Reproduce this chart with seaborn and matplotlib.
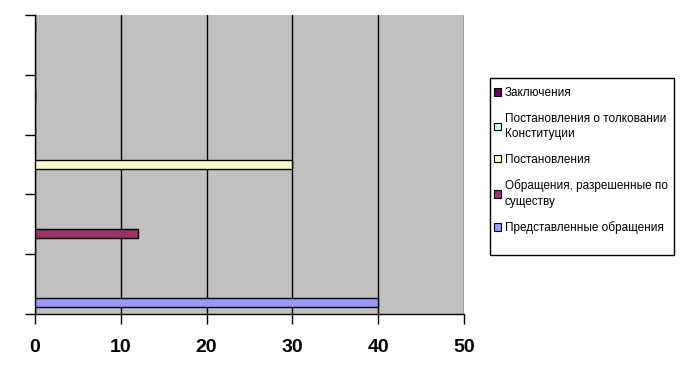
import numpy as np
import pandas as pd
import seaborn as sns
import matplotlib
matplotlib.use("Agg")
import matplotlib.pyplot as plt
from matplotlib.patches import Patch, Rectangle

# ---- data ----
categories = ["1", "2", "3", "4", "5"]  # bottom to top
series = [
    "Представленные обращения",
    "Обращения, разрешенные по существу",
    "Постановления",
    "Постановления о толковании Конституции",
    "Заключения",
]
values = [40, 12, 30, 0, 0]
colors = ["#9999FF", "#993366", "#FFFFCC", "#CCFFFF", "#660066"]
legend_labels = [
    "Представленные обращения",
    "Обращения, разрешенные по\nсуществу",
    "Постановления",
    "Постановления о толковании\nКонституции",
    "Заключения",
]
x_ticks = [0, 10, 20, 30, 40, 50]

df = pd.DataFrame({"category": categories, "series": series, "value": values})

sns.set_theme(style="white")
plt.rcParams["font.family"] = ["Liberation Sans", "DejaVu Sans"]

fig = plt.figure(figsize=(6.84, 3.82), dpi=100)
ax = fig.add_axes([35 / 684, 1 - 314 / 382, (464 - 35) / 684, (314 - 15) / 382])
ax.set_facecolor("#C0C0C0")

palette = dict(zip(series, colors))
sns.barplot(
    data=df, y="category", x="value", hue="series",
    order=categories[::-1], hue_order=series[::-1],
    palette=palette, saturation=1, orient="h", width=0.77, dodge=True,
    errorbar=None, edgecolor="black", linewidth=1, legend=False, ax=ax, zorder=3,
)

ax.set_xlim(0, 50)
ax.set_ylim(4.5, -0.5)
ax.set_xticks(x_ticks)
ax.set_xticklabels([str(t) for t in x_ticks], fontsize=14, fontweight="bold", color="black")
ax.set_yticks(np.arange(-0.5, 5, 1.0))
ax.set_yticklabels([])
ax.set_xlabel("")
ax.set_ylabel("")
ax.xaxis.grid(True, color="black", linewidth=1, zorder=1)
ax.set_axisbelow(True)
ax.yaxis.grid(False)
for s in ["top", "right"]:
    ax.spines[s].set_visible(False)
for s in ["left", "bottom"]:
    ax.spines[s].set_color("black")
    ax.spines[s].set_linewidth(1)
ax.tick_params(axis="x", which="major", direction="out", length=7, width=1,
               color="black", pad=11, bottom=True)
ax.tick_params(axis="y", which="major", direction="out", length=7, width=1,
               color="black", left=True)

handles = [Patch(facecolor=palette[s], edgecolor="black", linewidth=0.8) for s in series[::-1]]
labels = legend_labels[::-1]
leg = ax.legend(
    handles, labels, loc="upper left",
    bbox_to_anchor=(494 / 684, 1 - 87 / 382), bbox_transform=fig.transFigure,
    frameon=False, fontsize=8.5, borderpad=0, borderaxespad=0,
    handlelength=0.6, handleheight=0.6, handletextpad=0.3, labelspacing=1.15,
)
for t in leg.get_texts():
    t.set_color("black")
    t.set_linespacing(1.4)
fig.patches.append(Rectangle((490 / 684, 1 - 255 / 382), (674 - 490) / 684, (255 - 78) / 382,
                             transform=fig.transFigure, fill=False, edgecolor="black", linewidth=1))

fig.savefig("out.png", dpi=100, facecolor="white")
